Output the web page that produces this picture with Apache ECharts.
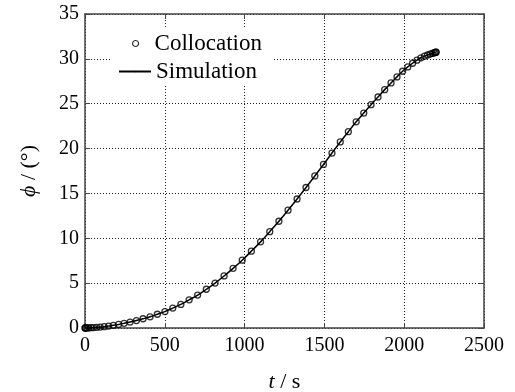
<!DOCTYPE html>
<html>
<head>
<meta charset="utf-8">
<script src="https://cdn.jsdelivr.net/npm/echarts@6/dist/echarts.min.js"></script>
<style>html,body{margin:0;padding:0;background:#fff}#c{width:515px;height:392px}</style>
</head>
<body>
<div id="c"></div>
<script>
// collocation times (s)
var tNodes = [0, 1.5, 6.0, 13.5, 24.0, 37.5, 53.8, 73.1, 95.1, 119.9, 147.4, 177.5, 210.1, 245.1, 282.5, 322.2, 364.0, 407.7, 453.4, 500.9, 550, 600.6, 652.6, 705.8, 760.1, 815.3, 871.3, 927.9, 985.0, 1042.4, 1100, 1157.6, 1215.0, 1272.1, 1328.7, 1384.7, 1439.9, 1494.2, 1547.4, 1599.4, 1650, 1699.1, 1746.6, 1792.3, 1836.0, 1877.8, 1917.5, 1954.9, 1989.9, 2022.5, 2052.6, 2080.1, 2104.9, 2126.9, 2146.2, 2162.5, 2176.0, 2186.5, 2194.0, 2198.5, 2200];
// phi (deg) at collocation times
var phiNodes = [0, 0.00, 0.01, 0.01, 0.02, 0.04, 0.05, 0.07, 0.10, 0.15, 0.22, 0.30, 0.40, 0.52, 0.66, 0.83, 1.03, 1.25, 1.53, 1.83, 2.22, 2.63, 3.14, 3.67, 4.32, 5.01, 5.80, 6.65, 7.56, 8.56, 9.60, 10.74, 11.90, 13.13, 14.38, 15.66, 16.95, 18.23, 19.50, 20.74, 21.88, 22.98, 23.96, 24.89, 25.75, 26.57, 27.32, 27.99, 28.62, 29.10, 29.51, 29.85, 30.12, 30.30, 30.43, 30.53, 30.61, 30.67, 30.71, 30.74, 30.75];
var xTicks = [0, 500, 1000, 1500, 2000, 2500];
var yTicks = [0, 5, 10, 15, 20, 25, 30, 35];
var seriesNames = ['Collocation', 'Simulation'];

var pts = tNodes.map(function (t, i) { return [t, phiNodes[i]]; });
var FONT = "'Liberation Serif','Times New Roman',serif";
var axisCol = '#444';
var gridLine = { show: true, lineStyle: { color: '#222', type: [1, 2], width: 1 } };
var plain = function (v) { return String(v); };

var chart = echarts.init(document.getElementById('c'), null, { renderer: 'canvas' });
chart.setOption({
  animation: false,
  backgroundColor: '#fff',
  textStyle: { fontFamily: FONT },
  grid: { left: 85, top: 14, right: 31, bottom: 64, containLabel: false, outerBoundsMode: 'none' },
  graphic: [{
    type: 'rect', shape: { x: 112, y: 28, width: 161, height: 57 },
    style: { fill: '#fff' }, z: 5, silent: true
  }],
  legend: [{
    data: [{ name: seriesNames[0], icon: 'circle' }],
    left: 127, top: 27, itemWidth: 6, itemHeight: 6, itemGap: 0,
    textStyle: { fontFamily: FONT, fontSize: 23, color: '#000', padding: [0, 0, 0, 11] },
    itemStyle: { color: 'rgba(0,0,0,0)', borderColor: '#000', borderWidth: 1.2 },
    z: 10
  }, {
    data: [{ name: seriesNames[1] }],
    left: 113, top: 55, itemWidth: 32, itemHeight: 2, itemGap: 0,
    textStyle: { fontFamily: FONT, fontSize: 23, color: '#000', padding: [0, 0, 0, 0] },
    z: 10
  }],
  xAxis: [{
    type: 'value', min: xTicks[0], max: xTicks[xTicks.length - 1], interval: 500,
    name: '{i|t} / s', nameLocation: 'middle', nameGap: 43,
    nameTextStyle: { fontFamily: FONT, fontSize: 22, color: '#000', rich: { i: { fontStyle: 'italic', fontFamily: FONT, fontSize: 22 } } },
    axisLine: { show: true, onZero: false, lineStyle: { color: axisCol, width: 1.5 } },
    axisTick: { show: true, inside: true, length: 5, lineStyle: { color: axisCol } },
    axisLabel: { fontFamily: FONT, fontSize: 20, color: '#000', margin: 8, formatter: plain },
    splitLine: gridLine
  }, {
    type: 'value', position: 'top', min: xTicks[0], max: xTicks[xTicks.length - 1], interval: 500,
    axisLine: { show: true, onZero: false, lineStyle: { color: axisCol, width: 1.5 } },
    axisTick: { show: true, inside: true, length: 5, lineStyle: { color: axisCol } },
    axisLabel: { show: false }, splitLine: { show: false }
  }],
  yAxis: [{
    type: 'value', min: yTicks[0], max: yTicks[yTicks.length - 1], interval: 5,
    name: '{i|ϕ} / (°)', nameLocation: 'middle', nameGap: 45, nameRotate: 90,
    nameTextStyle: { fontFamily: FONT, fontSize: 22, color: '#000', rich: { i: { fontStyle: 'italic', fontFamily: FONT, fontSize: 22 } } },
    axisLine: { show: true, onZero: false, lineStyle: { color: axisCol, width: 1.5 } },
    axisTick: { show: true, inside: true, length: 5, lineStyle: { color: axisCol } },
    axisLabel: { fontFamily: FONT, fontSize: 20, color: '#000', margin: 6, formatter: plain },
    splitLine: gridLine
  }, {
    type: 'value', position: 'right', min: yTicks[0], max: yTicks[yTicks.length - 1], interval: 5,
    axisLine: { show: true, onZero: false, lineStyle: { color: axisCol, width: 1.5 } },
    axisTick: { show: true, inside: true, length: 5, lineStyle: { color: axisCol } },
    axisLabel: { show: false }, splitLine: { show: false }
  }],
  series: [{
    name: seriesNames[1], type: 'line', data: pts, smooth: 0.3, symbol: 'none',
    lineStyle: { color: '#000', width: 1.5 }, itemStyle: { color: '#000' }, z: 3
  }, {
    name: seriesNames[0], type: 'scatter', data: pts, symbol: 'circle', symbolSize: 6,
    itemStyle: { color: 'rgba(0,0,0,0)', borderColor: '#000', borderWidth: 1.3 }, z: 4
  }]
});
</script>
</body>
</html>
